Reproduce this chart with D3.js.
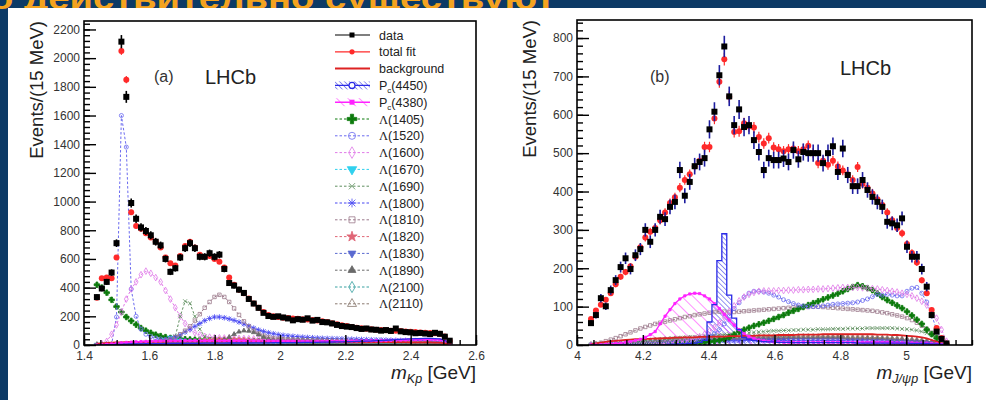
<!DOCTYPE html>
<html>
<head>
<meta charset="utf-8">
<script src="https://cdn.jsdelivr.net/npm/d3@7"></script>
<style>
  body { margin: 0; background: #0c3a66; }
  svg { display: block; }
  text { font-family: "Liberation Sans", Arial, sans-serif; }
</style>
</head>
<body>
<div id="chart"></div>
<script>
// ---- values, Events/(15 MeV) per bin ----
const slideTitle = "о действительно существуют";

const binStep = 0.015;
const aBinStart = 1.4395;   // first m_Kp bin centre [GeV]
const bBinStart = 4.0425;   // first m_J/psi p bin centre [GeV]

const aXTicks = [1.4, 1.6, 1.8, 2.0, 2.2, 2.4, 2.6];
const aYTicks = [0, 200, 400, 600, 800, 1000, 1200, 1400, 1600, 1800, 2000, 2200];
const bXTicks = [4.0, 4.2, 4.4, 4.6, 4.8, 5.0];
const bYTicks = [0, 100, 200, 300, 400, 500, 600, 700, 800];

const legendNames = ["data", "total fit", "background", "Pc(4450)", "Pc(4380)",
  "Λ(1405)", "Λ(1520)", "Λ(1600)", "Λ(1670)", "Λ(1690)", "Λ(1800)", "Λ(1810)",
  "Λ(1820)", "Λ(1830)", "Λ(1890)", "Λ(2100)", "Λ(2110)"];

// panel (a): m_Kp
const aData = [334,394,440,505,710,2115,1730,990,880,820,
  795,765,720,695,600,510,535,610,675,710,
  675,615,615,640,615,630,530,432,414,386,
  363,321,289,259,224,202,196,200,192,185,
  172,180,176,186,170,175,160,158,150,140,
  132,128,125,118,112,115,108,106,100,104,
  98,115,95,90,88,82,84,80,76,85,
  78,58,30];
const aFit = [330,466,470,466,610,2050,1850,925,830,810,
  780,750,720,680,610,570,555,620,690,720,
  680,630,615,620,600,580,540,470,420,385,
  360,325,290,260,230,210,200,195,190,188,
  185,183,180,178,175,170,165,160,152,145,
  138,132,126,121,117,114,110,107,104,102,
  100,99,97,94,92,90,88,86,84,82,
  78,60,28];
const aBkg = [10,12,14,16,18,19,20,21,22,22,
  23,23,24,24,24,25,25,25,25,25,
  25,25,25,25,25,25,25,25,25,25,
  25,25,25,25,25,24,24,24,24,24,
  24,24,24,24,23,23,23,23,23,23,
  22,22,22,22,22,21,21,21,21,21,
  20,20,20,20,19,19,19,18,18,17,
  16,12,5];
const aPc4450 = [0,1,2,3,4,5,6,7,8,8,
  9,9,10,10,10,11,11,11,12,12,
  12,12,13,13,13,13,13,14,14,14,
  14,14,15,15,15,15,16,16,16,17,
  17,17,18,18,19,19,20,20,21,22,
  22,23,24,25,26,27,28,30,31,33,
  35,37,39,41,43,44,45,46,46,45,
  42,32,14];
const aPc4380 = [0,2,5,8,12,15,18,20,22,24,
  25,26,27,28,28,29,29,30,30,30,
  30,30,30,30,30,30,30,30,30,30,
  30,29,29,29,29,29,28,28,28,28,
  28,28,27,27,27,27,27,27,27,27,
  27,28,28,28,28,29,29,30,30,31,
  32,33,34,35,36,37,38,38,38,37,
  35,28,12];
const aL1405 = [420,400,365,315,268,230,195,168,142,118,
  100,85,72,62,55,49,45,42,40,38,
  37,36,35,34,33,32,31,30,29,28,
  28,27,26,25,24,23,22,21,21,20,
  20,19,19,18,18,17,17,16,16,15,
  15,15,14,14,13,13,13,12,12,12,
  11,11,11,10,10,10,9,9,9,8,
  8,7,4];
const aL1520 = [0,0,0,5,195,1600,1380,390,200,110,
  75,58,48,42,38,35,33,31,30,29,
  28,27,26,25,24,23,22,21,21,20,
  19,19,18,18,17,17,16,16,15,15,
  15,14,14,14,13,13,13,12,12,12,
  11,11,11,11,10,10,10,10,9,9,
  9,9,8,8,8,8,7,7,7,6,
  6,5,3];
const aL1600 = [0,10,25,75,140,230,320,390,440,490,
  515,500,470,440,380,320,260,200,150,110,
  85,70,60,55,52,50,49,48,47,46,
  45,44,43,42,41,40,39,38,37,36,
  35,34,33,32,31,30,29,28,27,26,
  25,24,23,22,22,21,21,20,20,19,
  19,18,18,17,17,16,16,15,15,14,
  13,10,5];
const aL1670 = [0,0,0,0,0,1,2,3,4,6,
  8,11,15,22,35,50,45,30,20,15,
  12,10,9,8,7,7,6,6,6,5,
  5,5,5,5,4,4,4,4,4,4,
  4,3,3,3,3,3,3,3,3,3,
  3,3,2,2,2,2,2,2,2,2,
  2,2,2,2,2,2,2,1,1,1,
  1,1,0];
const aL1690 = [0,0,0,0,0,2,3,4,5,6,
  8,10,12,15,20,30,60,200,305,290,
  200,110,60,42,35,30,27,25,24,23,
  22,21,20,20,19,19,18,18,17,17,
  16,16,15,15,15,14,14,14,13,13,
  13,12,12,12,11,11,11,10,10,10,
  10,9,9,9,8,8,8,7,7,6,
  6,4,2];
const aL1800 = [0,0,0,0,2,4,6,8,10,12,
  15,18,22,28,35,45,55,70,90,110,
  130,150,170,185,195,195,190,182,172,160,
  146,132,118,105,95,86,79,73,68,64,
  61,58,55,53,51,49,47,46,45,44,
  43,42,41,40,39,38,37,36,36,35,
  34,33,32,32,31,30,30,29,28,26,
  24,18,8];
const aL1810 = [0,0,0,0,0,0,2,4,6,8,
  10,14,18,24,32,42,55,75,100,130,
  170,215,260,300,335,350,335,300,255,210,
  165,130,100,80,65,55,48,43,40,38,
  36,34,32,30,29,28,27,26,25,24,
  23,22,21,20,20,19,18,18,17,16,
  16,15,15,14,14,13,12,12,11,10,
  9,6,3];
const aL1820 = [0,0,0,0,0,1,2,3,4,5,
  6,7,8,9,10,12,14,16,18,20,
  23,26,29,32,35,37,38,38,37,36,
  34,32,30,28,26,24,22,21,20,19,
  18,17,16,15,15,14,14,13,13,12,
  12,11,11,10,10,10,9,9,9,8,
  8,8,7,7,7,6,6,6,5,5,
  4,3,1];
const aL1830 = [0,0,0,0,0,1,1,2,2,3,
  3,4,4,5,6,7,8,9,10,11,
  12,13,14,15,16,17,18,18,19,19,
  19,19,19,18,18,18,17,17,16,16,
  16,15,15,15,14,14,14,13,13,13,
  12,12,12,11,11,11,10,10,10,9,
  9,9,8,8,8,7,7,7,6,6,
  5,4,2];
const aL1890 = [0,0,0,0,0,0,1,1,2,2,
  3,3,4,4,5,6,7,8,9,10,
  12,14,16,19,23,28,38,55,75,92,
  100,98,88,72,55,42,34,28,24,21,
  19,17,16,15,14,13,12,12,11,11,
  10,10,10,9,9,9,8,8,8,8,
  7,7,7,7,6,6,6,6,5,5,
  5,4,2];
const aL2100 = [0,0,0,0,0,0,0,1,1,1,
  1,2,2,2,3,3,3,4,4,5,
  5,6,6,7,7,8,8,9,10,11,
  12,13,14,15,16,17,18,19,20,21,
  22,22,23,23,23,22,22,21,20,19,
  18,17,16,15,14,13,12,12,11,10,
  10,9,9,8,8,7,7,6,6,5,
  5,4,2];
const aL2110 = [0,0,0,0,0,0,1,1,1,2,
  2,2,3,3,4,4,5,5,6,7,
  8,9,10,11,12,13,14,15,17,19,
  21,23,25,27,29,30,31,32,33,33,
  33,33,32,32,31,30,29,28,27,26,
  25,24,23,22,21,20,19,18,17,16,
  15,14,13,12,11,10,9,8,7,6,
  5,4,2];

// panel (b): m_J/psi p
const bData = [57,78,122,101,143,169,203,226,198,234,
  250,300,269,300,334,328,360,373,456,389,
  425,466,477,487,562,608,703,778,648,573,
  614,568,573,534,503,456,487,482,482,486,
  477,508,484,503,500,500,500,474,500,518,
  451,512,443,414,414,430,404,386,373,360,
  321,317,312,330,256,230,230,198,152,78,
  35,16,4];
const bFit = [68,90,105,118,135,158,178,190,205,230,
  255,280,295,305,325,345,370,385,410,430,
  445,465,480,516,516,590,686,745,647,555,
  557,578,570,567,542,525,539,515,510,505,
  510,512,505,510,519,500,474,480,470,480,
  465,455,445,430,464,420,410,395,380,365,
  345,325,305,291,263,240,215,169,135,91,
  44,18,4];
const bBkg = [2,4,6,8,10,11,12,13,14,15,
  15,16,16,17,17,18,18,19,19,20,
  20,20,21,21,21,22,22,22,23,23,
  23,24,24,24,25,25,25,25,26,26,
  26,26,27,27,27,27,27,28,28,28,
  28,28,28,28,28,28,28,28,27,27,
  27,26,26,25,24,23,22,20,17,13,
  9,5,1];
const bPc4450 = [0,0,0,0,0,0,0,0,0,0,
  0,0,1,1,1,1,2,2,3,3,
  4,5,7,12,60,105,220,290,130,70,
  40,20,15,12,10,9,8,8,7,7,
  7,6,6,6,6,6,6,6,6,6,
  6,6,6,6,5,5,5,5,5,5,
  5,5,5,5,5,4,4,4,4,3,
  3,2,1];
const bPc4380 = [0,0,1,2,3,4,5,7,9,12,
  15,20,27,35,55,75,92,108,120,128,
  133,135,134,128,120,108,95,80,65,52,
  40,30,22,17,13,11,9,8,8,7,
  7,7,7,7,7,7,7,7,7,7,
  7,7,7,7,7,7,7,7,7,7,
  7,6,6,6,6,6,5,5,5,4,
  3,2,1];
const bL1405 = [0,0,0,0,0,0,0,0,0,0,
  1,1,1,1,2,2,2,3,3,4,
  4,5,6,7,8,10,12,15,20,27,
  35,40,45,50,54,58,63,68,73,78,
  84,89,94,99,104,109,114,119,124,129,
  134,140,146,151,156,153,148,143,134,125,
  117,110,103,96,87,77,66,55,40,28,
  18,8,1];
const bL1520 = [0,0,0,0,0,0,0,0,0,0,
  0,0,1,1,2,2,3,4,5,6,
  8,10,13,17,22,30,40,55,75,95,
  110,125,135,140,140,138,135,130,125,118,
  113,108,104,102,100,100,100,102,104,106,
  107,108,109,110,112,116,120,126,132,130,
  132,130,128,128,140,148,150,135,112,78,
  40,12,2];
const bL1600 = [0,0,0,0,0,0,0,0,0,1,
  1,1,2,2,3,4,5,6,8,10,
  13,17,22,28,36,46,58,72,88,102,
  115,125,132,137,140,141,141,141,142,142,
  143,143,144,144,145,145,146,146,147,148,
  149,150,150,150,150,149,148,147,146,144,
  142,140,138,135,132,128,122,114,104,90,
  70,40,10];
const bL1690 = [0,1,2,3,4,5,6,7,8,9,
  10,11,12,13,14,15,16,17,18,19,
  20,21,22,23,24,25,26,27,28,29,
  30,31,32,33,34,35,36,37,37,38,
  38,39,39,40,40,40,41,41,41,42,
  42,42,43,43,43,43,44,44,44,44,
  44,44,43,42,41,40,38,35,31,26,
  19,10,2];
const bL1800 = [0,0,1,1,2,2,3,3,4,4,
  5,5,6,6,7,7,8,8,8,9,
  9,9,10,10,10,10,11,11,11,11,
  11,12,12,12,12,12,12,12,12,12,
  12,12,12,12,12,12,12,12,12,12,
  12,11,11,11,11,11,10,10,10,10,
  9,9,9,8,8,7,7,6,5,4,
  3,2,1];
const bL1810 = [0,3,6,10,14,18,23,28,33,38,
  43,47,51,55,58,61,64,67,70,73,
  75,78,80,82,84,86,87,87,86,86,
  87,88,89,90,91,92,93,94,95,96,
  97,98,98,99,99,100,100,99,98,97,
  96,95,94,93,92,91,90,89,87,85,
  83,80,77,74,70,65,58,50,42,32,
  22,10,2];
const bL1890 = [0,0,1,2,3,4,5,6,6,7,
  8,8,9,10,10,11,11,12,12,13,
  13,14,14,15,15,15,16,16,16,17,
  17,17,17,18,18,18,18,18,18,18,
  19,19,19,19,19,19,19,19,19,19,
  19,19,18,18,18,18,18,17,17,17,
  16,16,15,15,14,13,12,11,10,8,
  6,4,1];
const bL2110 = [0,1,1,2,3,4,5,6,7,8,
  9,10,11,12,13,14,15,16,16,17,
  18,18,19,19,20,20,20,21,21,21,
  21,22,22,22,22,22,22,22,22,22,
  22,22,22,22,22,22,22,21,21,21,
  21,21,20,20,20,20,19,19,19,18,
  18,17,17,16,15,14,13,12,10,8,
  6,4,1];

// ---- styles ----
const compStyle = {
  "Λ(1405)": { color: "#0b7a0b", marker: "cross", fill: true, size: 34 },
  "Λ(1520)": { color: "#6a6af0", marker: "circle", fill: false, size: 26 },
  "Λ(1600)": { color: "#e07ae8", marker: "diamond", fill: false, size: 26 },
  "Λ(1670)": { color: "#30d0ee", marker: "triangleDown", fill: true, size: 26 },
  "Λ(1690)": { color: "#5f8f5f", marker: "times", fill: false, size: 20 },
  "Λ(1800)": { color: "#4646f2", marker: "asterisk", fill: false, size: 24 },
  "Λ(1810)": { color: "#9c7a8c", marker: "square", fill: false, size: 24 },
  "Λ(1820)": { color: "#e06676", marker: "star", fill: true, size: 22 },
  "Λ(1830)": { color: "#5a6ad0", marker: "triangleDown", fill: true, size: 18 },
  "Λ(1890)": { color: "#6a6a6a", marker: "triangle", fill: true, size: 18 },
  "Λ(2100)": { color: "#36a0a0", marker: "diamond", fill: false, size: 24 },
  "Λ(2110)": { color: "#8a7a70", marker: "triangle", fill: false, size: 24 }
};
const pc4450Color = "#2a2ae6", pc4380Color = "#ff22ff", fitColor = "#ff2a2a", bkgColor = "#dd2222";
const plotMarkerScale = 0.5;

const W = 986, H = 400;
const svg = d3.select("#chart").append("svg").attr("width", W).attr("height", H);

svg.append("rect").attr("width", W).attr("height", H).attr("fill", "#0c3a66");
svg.append("text")
  .attr("x", -10).attr("y", 9)
  .attr("fill", "#f4a31f")
  .attr("font-weight", "bold")
  .attr("font-size", 32)
  .attr("textLength", 565)
  .attr("lengthAdjust", "spacingAndGlyphs")
  .text(slideTitle);
svg.append("rect").attr("x", 8).attr("y", 8).attr("width", W - 8).attr("height", H - 8).attr("fill", "#fff");

const defs = svg.append("defs");
function hatch(id, color, gap) {
  defs.append("pattern").attr("id", id)
    .attr("patternUnits", "userSpaceOnUse")
    .attr("width", gap).attr("height", gap)
    .attr("patternTransform", "rotate(-45)")
    .append("line")
    .attr("x1", 0).attr("y1", 0).attr("x2", 0).attr("y2", gap)
    .attr("stroke", color).attr("stroke-width", 1);
}
hatch("hatch4450", pc4450Color, 3.5);
hatch("hatch4380", pc4380Color, 8);

function symbolPath(st, k) {
  const s = st.size * k;
  const r = Math.sqrt(s) / 2 + 0.4;
  switch (st.marker) {
    case "circle": return d3.symbol(d3.symbolCircle, s)();
    case "square": return d3.symbol(d3.symbolSquare, s)();
    case "diamond": return d3.symbol(d3.symbolDiamond, s)();
    case "triangle":
    case "triangleDown": return d3.symbol(d3.symbolTriangle, s)();
    case "cross": return d3.symbol(d3.symbolCross, s)();
    case "star": return d3.symbol(d3.symbolStar, s)();
    case "times": return `M${-r},${-r}L${r},${r}M${-r},${r}L${r},${-r}`;
    case "asterisk": return `M${-r},${-r}L${r},${r}M${-r},${r}L${r},${-r}M0,${-r * 1.3}V${r * 1.3}M${-r * 1.3},0H${r * 1.3}`;
  }
  return null;
}

function putMarkers(g, pts, st, k) {
  g.append("g").selectAll("path")
    .data(pts)
    .join("path")
    .attr("d", symbolPath(st, k))
    .attr("transform", d => `translate(${d[0]},${d[1]})` + (st.marker === "triangleDown" ? " rotate(180)" : ""))
    .attr("fill", st.fill ? st.color : "none")
    .attr("stroke", st.color)
    .attr("stroke-width", 0.8);
}

function addLabel(sel, name) {
  if (name.startsWith("Pc")) {
    sel.append("tspan").text("P");
    sel.append("tspan").attr("font-size", 8).attr("dy", 3).text("c");
    sel.append("tspan").attr("dy", -3).text(name.slice(2));
  } else if (name.startsWith("Λ")) {
    sel.append("tspan").attr("font-family", "'Liberation Serif', serif").text("Λ");
    sel.append("tspan").text(name.slice(1));
  } else {
    sel.text(name);
  }
}

function drawPanel(p, idx) {
  const x = d3.scaleLinear().domain(p.xDomain).range([p.left, p.right]);
  const y = d3.scaleLinear().domain([0, p.yMax]).range([p.bottom, p.top]);
  const cx = i => x(p.start + i * binStep);

  defs.append("clipPath").attr("id", "clip" + idx)
    .append("rect").attr("x", p.left).attr("y", p.top)
    .attr("width", p.right - p.left).attr("height", p.bottom - p.top);

  const g = svg.append("g").attr("clip-path", `url(#clip${idx})`);
  const line = d3.line().x((d, i) => cx(i)).y(d => y(d));
  const area = d3.area().x((d, i) => cx(i)).y0(y(0)).y1(d => y(d));

  // hatched P_c contributions
  const c4450 = p.pc4450Step ? d3.curveStep : d3.curveLinear;
  g.append("path").attr("d", area.curve(c4450)(p.pc4450)).attr("fill", "url(#hatch4450)");
  g.append("path").attr("d", area.curve(d3.curveLinear)(p.pc4380)).attr("fill", "url(#hatch4380)");

  // Lambda* components
  Object.entries(p.comps).forEach(([name, vals]) => {
    const st = compStyle[name];
    g.append("path").attr("d", line(vals))
      .attr("fill", "none").attr("stroke", st.color)
      .attr("stroke-width", 1).attr("stroke-dasharray", "2.5,2");
    putMarkers(g, vals.map((v, i) => [cx(i), y(v)]), st, plotMarkerScale);
  });

  // background
  g.append("path").attr("d", line(p.bkg)).attr("fill", "none")
    .attr("stroke", bkgColor).attr("stroke-width", 1.8);

  // P_c lines
  g.append("path").attr("d", line(p.pc4380)).attr("fill", "none")
    .attr("stroke", pc4380Color).attr("stroke-width", 1.4);
  putMarkers(g, p.pc4380.map((v, i) => [cx(i), y(v)]), { color: pc4380Color, marker: "square", fill: true, size: 5 }, 1);
  g.append("path").attr("d", line.curve(c4450)(p.pc4450)).attr("fill", "none")
    .attr("stroke", pc4450Color).attr("stroke-width", 1.3);
  line.curve(d3.curveLinear);

  // total fit
  g.append("g").selectAll("line").data(p.fit).join("line")
    .attr("x1", (d, i) => cx(i)).attr("x2", (d, i) => cx(i))
    .attr("y1", d => y(d - 0.6 * Math.sqrt(d))).attr("y2", d => y(d + 0.6 * Math.sqrt(d)))
    .attr("stroke", fitColor).attr("stroke-width", 1.2);
  g.append("g").selectAll("circle").data(p.fit).join("circle")
    .attr("cx", (d, i) => cx(i)).attr("cy", d => y(d)).attr("r", 3)
    .attr("fill", fitColor);

  // data
  g.append("g").selectAll("line").data(p.data).join("line")
    .attr("x1", (d, i) => cx(i)).attr("x2", (d, i) => cx(i))
    .attr("y1", d => y(d - Math.sqrt(d))).attr("y2", d => y(d + Math.sqrt(d)))
    .attr("stroke", p.errColor).attr("stroke-width", 1.6);
  g.append("g").selectAll("rect").data(p.data).join("rect")
    .attr("x", (d, i) => cx(i) - 3).attr("y", d => y(d) - 3)
    .attr("width", 6).attr("height", 6).attr("fill", "#000");

  // frame and axes
  svg.append("rect").attr("x", p.left).attr("y", p.top)
    .attr("width", p.right - p.left).attr("height", p.bottom - p.top)
    .attr("fill", "none").attr("stroke", "#000").attr("stroke-width", 1.6);

  const styleAxis = a => {
    a.select(".domain").remove();
    a.attr("font-family", "'Liberation Sans', Arial, sans-serif").attr("font-size", 12);
    a.selectAll(".tick line").attr("stroke", "#000").attr("stroke-width", 1.4);
    a.selectAll(".tick text").attr("fill", "#333");
  };
  const xMinor = d3.range(p.xDomain[0], p.xDomain[1] + 1e-9, p.xMinor);
  const yMinor = d3.range(0, p.yMax, p.yMinor);

  svg.append("g").attr("transform", `translate(0,${p.bottom})`)
    .call(d3.axisBottom(x).tickValues(xMinor).tickSize(-5).tickFormat("")).call(styleAxis);
  svg.append("g").attr("transform", `translate(0,${p.bottom})`)
    .call(d3.axisBottom(x).tickValues(p.xTicks).tickSize(-10).tickPadding(6).tickFormat(d => String(d)))
    .call(styleAxis);
  svg.append("g").attr("transform", `translate(${p.left},0)`)
    .call(d3.axisLeft(y).tickValues(yMinor).tickSize(-6).tickFormat("")).call(styleAxis);
  svg.append("g").attr("transform", `translate(${p.left},0)`)
    .call(d3.axisLeft(y).tickValues(p.yTicks).tickSize(-12).tickPadding(4).tickFormat(d => String(d)))
    .call(styleAxis);

  // titles
  svg.append("text")
    .attr("transform", `translate(${p.left - 41},${p.top}) rotate(-90)`)
    .attr("text-anchor", "end").attr("font-size", 18.5).attr("fill", "#222")
    .text("Events/(15 MeV)");

  const xt = svg.append("text").attr("x", p.right).attr("y", 379)
    .attr("text-anchor", "end").attr("font-size", 19).attr("fill", "#222");
  xt.append("tspan").attr("font-style", "italic").text("m");
  xt.append("tspan").attr("font-style", "italic").attr("font-size", 12.5).attr("dy", 4).text(p.sub);
  xt.append("tspan").attr("dy", -4).text(" [GeV]");

  svg.append("text").attr("x", p.tagX).attr("y", p.tagY)
    .attr("font-size", 16).attr("fill", "#333").text(p.tag);
  svg.append("text").attr("x", p.lhcbX).attr("y", p.lhcbY)
    .attr("font-size", 20).attr("fill", "#222").text("LHCb");
}

const aComps = {
  "Λ(1405)": aL1405, "Λ(1520)": aL1520, "Λ(1600)": aL1600, "Λ(1670)": aL1670,
  "Λ(1690)": aL1690, "Λ(1800)": aL1800, "Λ(1810)": aL1810, "Λ(1820)": aL1820,
  "Λ(1830)": aL1830, "Λ(1890)": aL1890, "Λ(2100)": aL2100, "Λ(2110)": aL2110
};
const bComps = {
  "Λ(1890)": bL1890, "Λ(2110)": bL2110, "Λ(1800)": bL1800, "Λ(1690)": bL1690,
  "Λ(1810)": bL1810, "Λ(1405)": bL1405, "Λ(1520)": bL1520, "Λ(1600)": bL1600
};

drawPanel({
  left: 84, right: 476, top: 21, bottom: 345,
  xDomain: [1.4, 2.6], yMax: 2259, xTicks: aXTicks, yTicks: aYTicks, xMinor: 0.05, yMinor: 40,
  start: aBinStart, data: aData, fit: aFit, bkg: aBkg, pc4450: aPc4450, pc4380: aPc4380,
  pc4450Step: false, comps: aComps, errColor: "#000",
  sub: "Kp", tag: "(a)", tagX: 154, tagY: 82, lhcbX: 205, lhcbY: 84
}, 0);

drawPanel({
  left: 577, right: 972, top: 20, bottom: 345,
  xDomain: [4.0, 5.2], yMax: 847, xTicks: bXTicks, yTicks: bYTicks, xMinor: 0.05, yMinor: 20,
  start: bBinStart, data: bData, fit: bFit, bkg: bBkg, pc4450: bPc4450, pc4380: bPc4380,
  pc4450Step: true, comps: bComps, errColor: "#1c1c9e",
  sub: "J/ψp", tag: "(b)", tagX: 650, tagY: 82, lhcbX: 840, lhcbY: 75
}, 1);

// legend of panel (a)
const leg = svg.append("g");
legendNames.forEach((name, i) => {
  const ly = 35 + i * 16.8;
  const row = leg.append("g");
  if (name === "data") {
    row.append("line").attr("x1", 335).attr("x2", 370).attr("y1", ly).attr("y2", ly).attr("stroke", "#000").attr("stroke-width", 1.2);
    row.append("rect").attr("x", 349.5).attr("y", ly - 2.5).attr("width", 5).attr("height", 5).attr("fill", "#000");
  } else if (name === "total fit") {
    row.append("line").attr("x1", 335).attr("x2", 370).attr("y1", ly).attr("y2", ly).attr("stroke", fitColor).attr("stroke-width", 1.2);
    row.append("circle").attr("cx", 352).attr("cy", ly).attr("r", 2.6).attr("fill", fitColor);
  } else if (name === "background") {
    row.append("line").attr("x1", 335).attr("x2", 370).attr("y1", ly).attr("y2", ly).attr("stroke", bkgColor).attr("stroke-width", 2);
  } else if (name === "Pc(4450)") {
    row.append("rect").attr("x", 335).attr("y", ly - 4).attr("width", 35).attr("height", 8)
      .attr("fill", "url(#hatch4450)");
    row.append("line").attr("x1", 335).attr("x2", 370).attr("y1", ly).attr("y2", ly).attr("stroke", pc4450Color).attr("stroke-width", 1.3);
    row.append("circle").attr("cx", 352).attr("cy", ly).attr("r", 3).attr("fill", "#fff").attr("stroke", pc4450Color).attr("stroke-width", 1.2);
  } else if (name === "Pc(4380)") {
    row.append("rect").attr("x", 335).attr("y", ly - 4).attr("width", 35).attr("height", 8)
      .attr("fill", "url(#hatch4380)");
    row.append("line").attr("x1", 335).attr("x2", 370).attr("y1", ly).attr("y2", ly).attr("stroke", pc4380Color).attr("stroke-width", 1.4);
    row.append("rect").attr("x", 349.5).attr("y", ly - 2.5).attr("width", 5).attr("height", 5).attr("fill", pc4380Color);
  } else {
    const st = compStyle[name];
    row.append("line").attr("x1", 335).attr("x2", 370).attr("y1", ly).attr("y2", ly)
      .attr("stroke", st.color).attr("stroke-width", 1).attr("stroke-dasharray", "2.5,2");
    putMarkers(row, [[352, ly]], st, 1.5);
  }
  const t = row.append("text").attr("x", 379).attr("y", ly + 4.5)
    .attr("font-size", 12.5).attr("fill", "#222");
  addLabel(t, name);
});
</script>
</body>
</html>
